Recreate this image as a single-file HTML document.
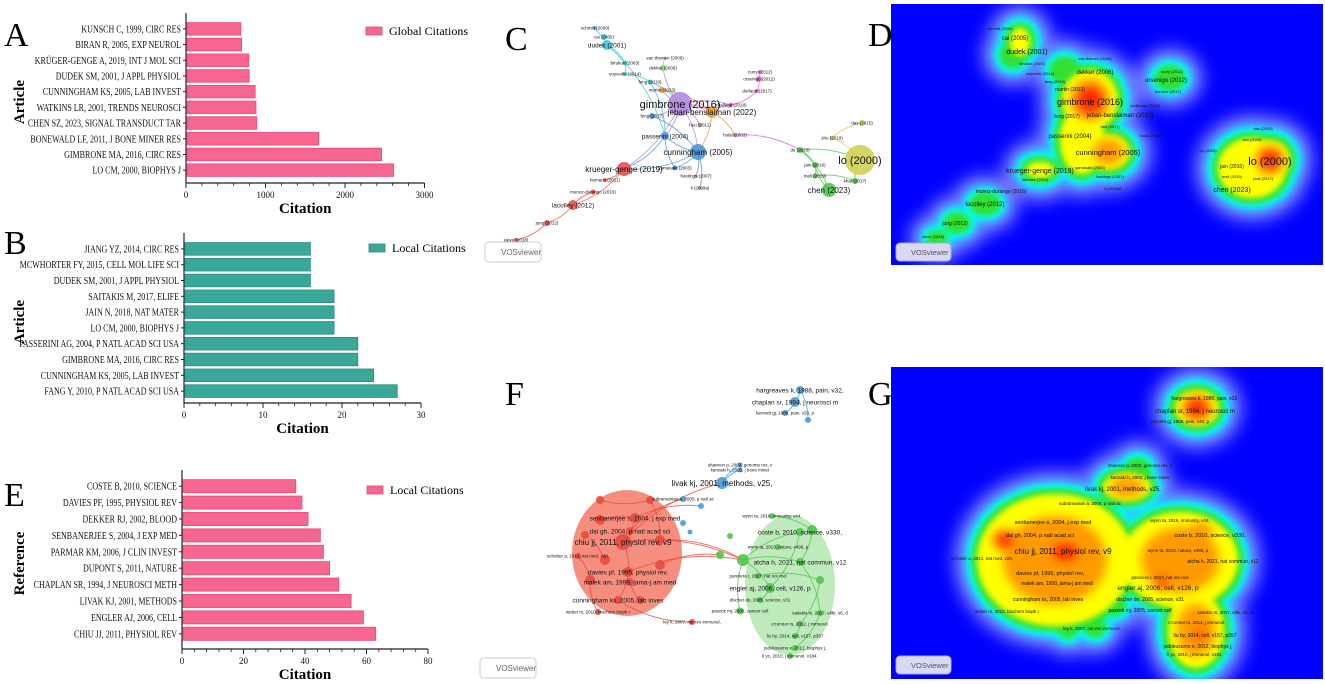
<!DOCTYPE html>
<html><head><meta charset="utf-8">
<style>
html,body{margin:0;padding:0;background:#fff;}
body{width:1325px;height:684px;position:relative;overflow:hidden;font-family:"Liberation Serif",serif;}
svg{position:absolute;left:0;top:0;}
</style></head>
<body>
<svg id="fig" width="1325" height="684" viewBox="0 0 1325 684" xmlns="http://www.w3.org/2000/svg">
<g id="gA"></g><g id="gB"></g><g id="gE"></g>
<g id="gD"></g><g id="gG"></g>
<g id="gC"></g><g id="gF"></g>
<text x="4" y="46" font-size="34" font-family="Liberation Serif">A</text>
<text x="4" y="254" font-size="34" font-family="Liberation Serif">B</text>
<text x="4" y="506" font-size="34" font-family="Liberation Serif">E</text>
<text x="505" y="50" font-size="34" font-family="Liberation Serif">C</text>
<text x="868" y="46" font-size="34" font-family="Liberation Serif">D</text>
<text x="505" y="405" font-size="34" font-family="Liberation Serif">F</text>
<text x="868" y="405" font-size="34" font-family="Liberation Serif">G</text>
</svg>
<script>
const NS="http://www.w3.org/2000/svg";
function mk(p,t,a){const e=document.createElementNS(NS,t);for(const k in a)e.setAttribute(k,a[k]);p.appendChild(e);return e;}

// ---- bar chart data ----
const catsA=["KUNSCH C, 1999, CIRC RES","BIRAN R, 2005, EXP NEUROL","KRÜGER-GENGE A, 2019, INT J MOL SCI","DUDEK SM, 2001, J APPL PHYSIOL","CUNNINGHAM KS, 2005, LAB INVEST","WATKINS LR, 2001, TRENDS NEUROSCI","CHEN SZ, 2023, SIGNAL TRANSDUCT TAR","BONEWALD LF, 2011, J BONE MINER RES","GIMBRONE MA, 2016, CIRC RES","LO CM, 2000, BIOPHYS J"];
const valsA=[690,700,790,795,870,880,890,1670,2460,2610];
const ticksA=[0,1000,2000,3000];
const catsB=["JIANG YZ, 2014, CIRC RES","MCWHORTER FY, 2015, CELL MOL LIFE SCI","DUDEK SM, 2001, J APPL PHYSIOL","SAITAKIS M, 2017, ELIFE","JAIN N, 2018, NAT MATER","LO CM, 2000, BIOPHYS J","PASSERINI AG, 2004, P NATL ACAD SCI USA","GIMBRONE MA, 2016, CIRC RES","CUNNINGHAM KS, 2005, LAB INVEST","FANG Y, 2010, P NATL ACAD SCI USA"];
const valsB=[16,16,16,19,19,19,22,22,24,27];
const ticksB=[0,10,20,30];
const catsE=["COSTE B, 2010, SCIENCE","DAVIES PF, 1995,  PHYSIOL REV","DEKKER RJ, 2002, BLOOD","SENBANERJEE S, 2004, J EXP MED","PARMAR KM, 2006, J CLIN INVEST","DUPONT S, 2011, NATURE","CHAPLAN SR, 1994, J NEUROSCI METH","LIVAK KJ, 2001, METHODS","ENGLER AJ, 2006, CELL","CHIU JJ, 2011, PHYSIOL REV"];
const valsE=[37,39,41,45,46,48,51,55,59,63];
const ticksE=[0,20,40,60,80];

function barChart(g,cfg){
  const {cats,vals,ticks,x0,x1,yTop,yBot,axisY,color,edge,legend,legX,legY,ytitle,key}=cfg;
  const max=ticks[ticks.length-1];
  const xs=v=>x0+(x1-x0)*v/max;
  const n=cats.length, step=(yBot-yTop)/n, bh=step*0.8;
  const ax=mk(g,'line',{x1:x0,y1:yTop-8,x2:x0,y2:axisY,stroke:'#222','stroke-width':1.2});
  
  
  const bx=mk(g,'line',{x1:x0,y1:axisY,x2:x1,y2:axisY,stroke:'#222','stroke-width':1.2});
  
  
  cats.forEach((c,i)=>{
    const cy=yTop+step*i+step/2;
    const r=mk(g,'rect',{x:x0+1,y:cy-bh/2,width:Math.max(0,xs(vals[i])-x0-1),height:bh,fill:color,stroke:edge,'stroke-width':0.8});
    
    
    mk(g,'line',{x1:x0-3,y1:cy,x2:x0,y2:cy,stroke:'#222','stroke-width':1});
    const t=mk(g,'text',{x:x0-5,y:cy+3.5,'text-anchor':'end','font-size':'10','font-family':'Liberation Serif',fill:'#111'});
    t.textContent=c;
    
    
    const w=t.getComputedTextLength();
    if(w>0){t.setAttribute('textLength',(w*0.8).toFixed(1));t.setAttribute('lengthAdjust','spacingAndGlyphs');}
  });
  const minor=(ticks[1]-ticks[0])/5;
  for(let v=0;v<=max+1e-9;v+=minor){mk(g,'line',{x1:xs(v),y1:axisY,x2:xs(v),y2:axisY+3,stroke:'#222','stroke-width':0.8});}
  ticks.forEach(tv=>{
    mk(g,'line',{x1:xs(tv),y1:axisY,x2:xs(tv),y2:axisY+5,stroke:'#222','stroke-width':1});
    const t=mk(g,'text',{x:xs(tv),y:axisY+15,'text-anchor':'middle','font-size':'9','font-family':'Liberation Serif',fill:'#111'});
    t.textContent=tv;
    
    
  });
  const xt=mk(g,'text',{x:(x0+x1)/2,y:axisY+30,'text-anchor':'middle','font-size':'15','font-weight':'bold','font-family':'Liberation Serif'});
  xt.textContent='Citation';
  
  
  const ym=(yTop+axisY)/2;
  const yt=mk(g,'text',{x:0,y:0,'text-anchor':'middle','font-size':'15','font-weight':'bold','font-family':'Liberation Serif',transform:`translate(24,${ym}) rotate(-90)`});
  yt.textContent=ytitle;
  
  
  const lg=mk(g,'g',{});
  
  
  mk(lg,'rect',{x:legX,y:legY-4,width:16,height:8,fill:color,stroke:edge,'stroke-width':0.8});
  const lt=mk(lg,'text',{x:legX+23,y:legY+4,'font-size':'12','font-family':'Liberation Serif'});lt.textContent=legend;
}
barChart(document.getElementById('gA'),{cats:catsA,vals:valsA,ticks:ticksA,x0:186,x1:424.5,yTop:21,yBot:178,axisY:183,color:'#f7668f',edge:'#e8497a',legend:'Global Citations',legX:366,legY:31,ytitle:'Article',key:'chart-a'});
barChart(document.getElementById('gB'),{cats:catsB,vals:valsB,ticks:ticksB,x0:184,x1:421,yTop:241,yBot:399,axisY:403,color:'#3aa898',edge:'#2b8c7e',legend:'Local Citations',legX:369,legY:248,ytitle:'Article',key:'chart-b'});
barChart(document.getElementById('gE'),{cats:catsE,vals:valsE,ticks:ticksE,x0:182,x1:428,yTop:478,yBot:642,axisY:649,color:'#f7668f',edge:'#e8497a',legend:'Local Citations',legX:367,legY:490,ytitle:'Reference',key:'chart-e'});

// ---- density maps ----
// blobs: [cx, cy, rx, ry, level]
const blobsD=[[1090,100,30,32,4],[1108,152,24,20,3],[1082,140,24,36,2],[1270,160,22,22,4],[1252,168,36,32,2],[1020,42,12,16,2],[1013,55,10,10,1],[1040,170,16,10,2],[985,204,12,8,1],[957,223,10,7,1],[937,238,7,4,1],[1170,78,12,9,1],[1065,70,12,10,1]];
const blobsG=[[1197,408,24,20,4],[1127,487,26,16,3],[1138,468,9,7,1],[1055,560,80,68,3],[1065,552,30,20,4],[1005,540,20,16,4],[1180,560,60,50,3],[1162,582,14,12,4],[1200,532,20,15,3],[1196,630,30,40,3],[1200,635,12,10,4],[1068,628,7,7,1],[1095,627,8,7,1],[1115,605,8,7,1]];
function heat(g,blobs,box,key,labels,logo){
  const bg=mk(g,'rect',{x:box[0],y:box[1],width:box[2],height:box[3],fill:'#0000ff'});
  
  
  const cl=mk(g,'clipPath',{id:key+'-clip'});mk(cl,'rect',{x:box[0],y:box[1],width:box[2],height:box[3]});
  const layers=[['#6f70ff',22,1,8],['#30c0ff',12,1,5],['#00ffff',8,1,3],['#33e030',4,1,3],['#ffff00',-2,2,3],['#ff9a00',-0.35,3,5],['#ff2400',-0.6,4,5]];
  const root=mk(g,'g',{'clip-path':`url(#${key}-clip)`});
  layers.forEach(([col,pad,lvl,bl])=>{
    const fid=key+'-f'+lvl+col.slice(1);
    const f=mk(g,'filter',{id:fid,x:'-50%',y:'-50%',width:'200%',height:'200%'});mk(f,'feGaussianBlur',{stdDeviation:bl});
    const lg=mk(root,'g',{filter:`url(#${fid})`});
    blobs.forEach(b=>{
      if(b[4]<lvl)return;
      let rx,ry;
      if(pad>-1&&pad<0){rx=b[2]*(1+pad);ry=b[3]*(1+pad);} else {rx=b[2]+pad;ry=b[3]+pad;}
      if(rx<=0||ry<=0)return;
      const e=mk(lg,'ellipse',{cx:b[0],cy:b[1],rx:rx,ry:ry,fill:col});
      
      
    });
  });
  labels.forEach(l=>{const t=mk(g,'text',{x:l[1],y:l[2],'font-size':l[3]||6,'font-family':'Liberation Sans','text-anchor':'middle',fill:'#111'});t.textContent=l[0];
    
    });
  const lb=mk(g,'g',{});
  
  
  mk(lb,'rect',{x:logo[0],y:logo[1],width:55,height:18,rx:4,fill:'#d8d8f4',stroke:'#aab'});
  const lt=mk(lb,'text',{x:logo[0]+15,y:logo[1]+12,'font-size':'7.5','font-family':'Liberation Sans',fill:'#555'});lt.textContent='VOSviewer';
}
const labD=[["schmitt (2009)",1000,30,4],["cai (2005)",1015,40,6],["dudek (2001)",1027,54,7],["birukov (2003)",1032,65,4],["van thienen (2006)",1095,60,4],["dekker (2006)",1095,74,6],["voyvodic (2014)",1040,75,4],["curry (2012)",1172,73,4],["orsenigo (2012)",1166,82,6],["feng (2019)",1055,83,4],["martin (2013)",1070,91,5],["dorland (2017)",1168,93,4],["gimbrone (2016)",1090,105,9],["challenge (2018)",1145,107,4],["feng (2017)",1067,118,5],["jebari-benslaiman (2022)",1120,117,6],["heo (2011)",1110,128,4],["holal (2003)",1150,137,4],["passerini (2004)",1070,138,6],["cunningham (2005)",1108,155,7.5],["das (2015)",1263,130,4],["zhu (2019)",1252,141,4],["du (2023)",1208,152,4],["lo (2000)",1270,165,11],["jain (2016)",1232,168,5],["krueger-genge (2019)",1040,173,7],["yamasaki (2003)",1090,169,4],["hastings (2007)",1110,178,4],["meli (2019)",1232,178,4],["khaf (2017)",1263,180,4],["hemanz (2011)",1035,181,4],["li (2009a)",1113,190,4],["chen (2023)",1232,192,7],["munoz-durango (2016)",1001,193,5],["lacolley (2012)",985,206,6],["jung (2012)",955,225,5],["sieve (2018)",933,238,4]];
const labG=[["hargreaves k, 1988, pain, v32,",1205,400,5],["chaplan sr, 1994, j neurosci m",1195,413,6],["bennett gj, 1988, pain, v33, p",1180,423,4.5],["shannon p, 2003, genome res, v",1140,467,4.5],["kanzaki h, 2002, j bone miner",1140,479,4.5],["livak kj, 2001, methods, v25,",1123,491,6],["subramanian a, 2005, p natl ac",1090,505,4.5],["wynn ta, 2016, immunity, v44,",1180,522,4.5],["senbanerjee s, 2004, j exp med",1053,524,5.5],["dai gh, 2004, p natl acad sci",1040,537,5.5],["coste b, 2010, science, v330,",1210,537,5.5],["chiu jj, 2011, physiol rev, v9",1063,554,8],["wynn ta, 2013, nature, v496, p",1178,552,4.5],["schober a, 2014, nat med, v20,",982,560,4.5],["atcha h, 2021, nat commun, v12",1223,563,5],["davies pf, 1995, physiol rev,",1050,575,5.5],["panciera t, 2017, nat rev mol",1160,579,4.5],["malek am, 1999, jama-j am med",1057,585,5],["engler aj, 2006, cell, v126, p",1158,590,6.5],["cunningham ks, 2005, lab inves",1048,601,5],["discher de, 2005, science, v31",1150,601,5],["weber m, 2010, biochem bioph r",1007,613,4.5],["paszek mj, 2005, cancer cell",1140,612,5],["saitakis m, 2017, elife, v6, d",1225,614,4.5],["c'connor rs, 2012, j immunol,",1197,624,4.5],["ley k, 2007, nat rev immunol,",1092,630,4.5],["liu by, 2014, cell, v157, p357",1205,637,5],["judokusumo e, 2012, biophys j,",1198,648,5],["li yc, 2010, j immunol, v184,",1195,656,4.5]];
heat(document.getElementById('gD'),blobsD,[891,4,432,261],'map-d',labD,[896,243]);
heat(document.getElementById('gG'),blobsG,[891,367,432,312],'map-g',labG,[896,656]);

// ---- networks ----
const nodesC=[["gimbrone (2016)",680,104,12,"#b08be0"],["cunningham (2005)",698,152,8,"#4a94d8"],["lo (2000)",860,160,15,"#d2cf52"],["chen (2023)",829,190,7,"#4fc54a"],["krueger-genge (2019)",624,169,7,"#e8504f"],["lacolley (2012)",573,205,5,"#e8504f"],["jung (2012)",547,223,3,"#e8504f"],["sieve (2018)",516,240,2,"#e8504f"],["munoz-durango (2016)",593,192,2.5,"#e8504f"],["hemanz (2011)",605,180,2,"#e8504f"],["dudek (2001)",607,45,5,"#3fc4d8"],["cai (2005)",604,37,3,"#3fc4d8"],["schmitt (2009)",595,28,2,"#3fc4d8"],["birukov (2003)",625,63,2.5,"#3fc4d8"],["voyvodic (2014)",625,74,2,"#3fc4d8"],["feng (2019)",650,82,2.5,"#3fc4d8"],["passerini (2004)",665,136,4,"#4a94d8"],["feng (2017)",652,116,3,"#4a94d8"],["jebari-benslaiman (2022)",712,112,6,"#f09a30"],["martin (2013)",662,90,3,"#f09a30"],["orsenigo (2012)",759,79,3,"#e864d0"],["curry (2012)",760,72,2,"#e864d0"],["dorland (2017)",757,91,2,"#e864d0"],["challege (2018)",731,105,2.5,"#e864d0"],["holal (2003)",735,135,2,"#e864d0"],["dekker (2006)",663,68,3,"#8ad87a"],["van thienen (2006)",665,58,1.5,"#8ad87a"],["heo (2011)",700,125,2,"#c08a70"],["yamasaki (2003)",675,168,2.5,"#4a94d8"],["hastings (2007)",696,176,2,"#f0a0a0"],["li (2009a)",700,188,2,"#f0a0a0"],["du (2023)",800,150,3,"#4fc54a"],["zhu (2019)",832,138,2.5,"#d2cf52"],["das (2015)",862,123,3,"#d2cf52"],["jain (2016)",815,165,3,"#4fc54a"],["meli (2019)",815,176,2.5,"#4fc54a"],["khaf (2017)",855,181,3,"#4fc54a"]];
const edgesC=[[0,1],[0,16],[0,17],[0,18],[0,19],[0,27],[0,25],[0,23],[1,16],[1,28],[1,4],[1,29],[16,4],[4,5],[5,8],[5,6],[6,7],[4,9],[10,11],[11,12],[10,13],[13,14],[14,15],[15,0],[15,16],[10,16],[19,18],[20,21],[20,22],[22,23],[23,0],[24,31],[18,24],[31,3],[31,2],[31,34],[32,33],[32,2],[34,35],[35,36],[36,2],[3,34],[1,30],[25,26],[0,4],[17,1],[18,1],[28,16]];
function network(g,nodes,edges,key,logo){
  const eg=mk(g,'g',{});
  edges.forEach(([a,b])=>{
    const A=nodes[a],B=nodes[b];
    const mx=(A[1]+B[1])/2+(B[2]-A[2])*0.15, my=(A[2]+B[2])/2-(B[1]-A[1])*0.15;
    const p=mk(eg,'path',{d:`M${A[1]},${A[2]} Q${mx},${my} ${B[1]},${B[2]}`,fill:'none',stroke:A[4],'stroke-width':1,opacity:0.75});
    
    
  });
  nodes.forEach(n=>{
    const c=mk(g,'circle',{cx:n[1],cy:n[2],r:n[3],fill:n[4],opacity:0.9});
    
    
  });
  nodes.forEach(n=>{
    const fs=n[3]>=10?11:n[3]>=6?8:n[3]>=4?6.5:4.5;
    const t=mk(g,'text',{x:n[1],y:n[2]+fs*0.35,'text-anchor':'middle','font-size':fs,'font-family':'Liberation Sans',fill:'#111'});
    t.textContent=n[0];
    
    
  });
  const lb=mk(g,'g',{});
  
  
  mk(lb,'rect',{x:logo[0],y:logo[1],width:56,height:20,rx:4,fill:'#fff',stroke:'#ccc'});
  const lt=mk(lb,'text',{x:logo[0]+16,y:logo[1]+13,'font-size':'8','font-family':'Liberation Sans',fill:'#666'});lt.textContent='VOSviewer';
}
network(document.getElementById('gC'),nodesC,edgesC,'network-c',[485,242]);

const gF=document.getElementById('gF');
const fRed=mk(gF,'ellipse',{cx:627,cy:553,rx:55,ry:63,fill:'#f47a6a',opacity:0.85});


const fGreen=mk(gF,'ellipse',{cx:790,cy:585,rx:45,ry:70,fill:'#8ad985',opacity:0.55});


const nodesF=[["chiu jj, 2011, physiol rev, v9",623,542,8,"#e84a3c"],["senbanerjee s, 2004, j exp med",635,518,5,"#e84a3c"],["dai gh, 2004, p natl acad sci",630,531,4,"#e84a3c"],["davies pf, 1995, physiol rev,",628,572,5,"#e84a3c"],["malek am, 1999, jama-j am med",630,582,4,"#e84a3c"],["cunningham ks, 2005, lab inves",618,600,4,"#e84a3c"],["schober a, 2014, nat med, v20,",578,556,3,"#e84a3c"],["weber m, 2010, biochem bioph r",598,612,3,"#e84a3c"],["ley k, 2007, nat rev immunol,",692,622,3,"#e84a3c"],["",600,520,5,"#e84a3c"],["",660,540,5,"#e84a3c"],["",590,580,5,"#e84a3c"],["",650,500,4,"#e84a3c"],["",600,500,4,"#e84a3c"],["",660,565,5,"#e84a3c"],["",585,535,4,"#e84a3c"],["",640,600,4,"#e84a3c"],["",605,560,5,"#e84a3c"],
["engler aj, 2006, cell, v126, p",770,588,5,"#4fc54a"],["",743,560,6,"#4fc54a"],["wynn ta, 2016, immunity, v44,",772,516,3,"#4fc54a"],["coste b, 2010, science, v330,",800,532,4,"#4fc54a"],["",812,530,5,"#4fc54a"],["wynn ta, 2013, nature, v496, p",778,547,3,"#4fc54a"],["atcha h, 2021, nat commun, v12",800,562,4,"#4fc54a"],["panciera t, 2017, nat rev mol",758,576,3,"#4fc54a"],["discher de, 2005, science, v31",760,600,3,"#4fc54a"],["paszek mj, 2005, cancer cell",740,611,3.5,"#4fc54a"],["saitakis m, 2017, elife, v6, d",820,613,3,"#4fc54a"],["o'connor rs, 2012, j immunol,",800,624,3,"#4fc54a"],["liu by, 2014, cell, v157, p357",795,636,3,"#4fc54a"],["judokusumo e, 2012, biophys j,",795,648,3,"#4fc54a"],["li yc, 2010, j immunol, v184,",790,656,3,"#4fc54a"],["",720,555,4,"#4fc54a"],["",730,536,3,"#4fc54a"],["",820,580,4,"#4fc54a"],
["livak kj, 2001, methods, v25,",722,483,6,"#4a9ad8"],["shannon p, 2003, genome res, v",740,465,2.5,"#4a9ad8"],["kanzaki h, 2002, j bone miner",740,470,2.5,"#4a9ad8"],["subramanian a, 2005, p natl ac",683,499,3,"#4a9ad8"],["",701,506,3,"#4a9ad8"],["",683,523,3,"#4a9ad8"],["",690,532,2.5,"#4a9ad8"],["hargreaves k, 1988, pain, v32,",800,390,4,"#4a9ad8"],["chaplan sr, 1994, j neurosci m",795,402,5,"#4a9ad8"],["bennett gj, 1988, pain, v33, p",785,413,3,"#4a9ad8"],["",808,420,3,"#4a9ad8"]];
const edgesF=[[0,19],[3,19],[10,19],[14,33],[0,36],[2,39],[1,40],[36,37],[36,38],[43,44],[44,45],[43,46],[19,18],[19,21],[19,24],[18,26],[20,22],[22,24],[24,28],[28,31],[29,30],[27,19],[8,5],[9,1],[0,3],[6,11],[12,13],[15,17],[16,4],[3,5],[7,11],[12,10],[1,2],[21,18],[25,35],[35,29]];
network(gF,nodesF,edgesF,'network-f',[480,658]);
</script>
</body></html>
